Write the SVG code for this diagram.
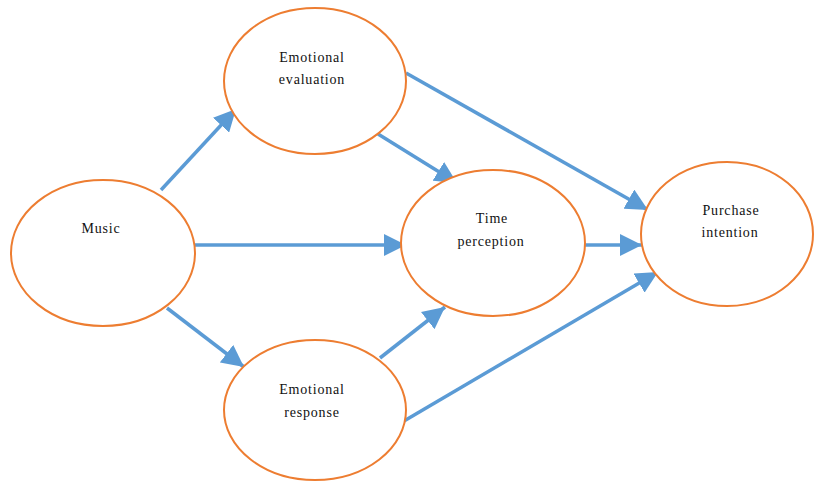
<svg xmlns="http://www.w3.org/2000/svg" width="817" height="483" viewBox="0 0 817 483">
<style>
.node ellipse{fill:#fff;stroke:#ED7D31;stroke-width:2}
.node text{font-family:"Liberation Serif","Times New Roman",serif;font-size:14px;letter-spacing:0.8px;fill:#111;text-anchor:middle}
.edges line{stroke:#5B9BD5;stroke-width:3.5;marker-end:url(#ah)}
</style>
<defs>
<marker id="ah" markerUnits="userSpaceOnUse" markerWidth="22" markerHeight="22" viewBox="0 0 20 20" refX="20" refY="10" orient="auto">
<path d="M0,0 L20,10 L0,20 Z" fill="#5B9BD5"/>
</marker>
</defs>
<rect width="817" height="483" fill="#fff"/>
<g class="edges">
<line x1="161" y1="190" x2="236" y2="109"/>
<line x1="195" y1="245" x2="406" y2="245"/>
<line x1="167" y1="308" x2="244" y2="367"/>
<line x1="378" y1="134" x2="457" y2="183"/>
<line x1="406" y1="73" x2="648" y2="210"/>
<line x1="585" y1="245" x2="642" y2="245"/>
<line x1="380" y1="358" x2="445" y2="307"/>
<line x1="404" y1="421" x2="658" y2="272"/>
</g>
<g id="music" class="node"><ellipse cx="103" cy="253" rx="92" ry="73"/><text x="101" y="233">Music</text></g>
<g id="emotional-evaluation" class="node"><ellipse cx="315" cy="81" rx="91" ry="73"/><text x="312" y="62">Emotional</text><text x="312" y="84">evaluation</text></g>
<g id="time-perception" class="node"><ellipse cx="493" cy="243" rx="92" ry="73"/><text x="492" y="223">Time</text><text x="491" y="246">perception</text></g>
<g id="purchase-intention" class="node"><ellipse cx="727" cy="234" rx="86" ry="72"/><text x="731" y="215">Purchase</text><text x="730" y="237">intention</text></g>
<g id="emotional-response" class="node"><ellipse cx="315" cy="410" rx="91" ry="70"/><text x="312" y="394">Emotional</text><text x="312" y="417">response</text></g>
</svg>
